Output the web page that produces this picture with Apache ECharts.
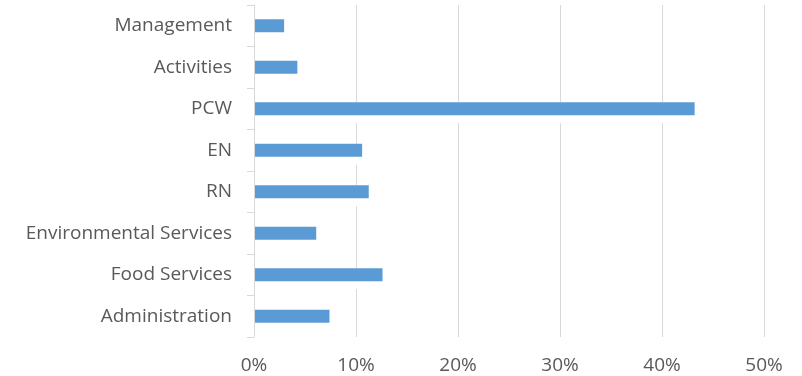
<!DOCTYPE html>
<html>
<head>
<meta charset="utf-8">
<script src="https://cdn.jsdelivr.net/npm/echarts@6/dist/echarts.min.js"></script>
<style>
  html, body { margin: 0; padding: 0; background: #fff; }
  #chart { width: 802px; height: 376px; }
</style>
</head>
<body>
<div id="chart"></div>
<script>
// Staff categories, listed bottom to top as drawn on the vertical axis
const categories = [
  'Administration',
  'Food Services',
  'Environmental Services',
  'RN',
  'EN',
  'PCW',
  'Activities',
  'Management'
];

// Share of staff in each category (percent)
const shares = [7.4, 12.6, 6.1, 11.25, 10.6, 43.2, 4.25, 2.95];

// Horizontal axis ticks (percent)
const tickValues = [0, 10, 20, 30, 40, 50];

const textColor = '#595959';
const lineColor = '#d9d9d9';
const fontFamily = '"Open Sans", "Liberation Sans", sans-serif';

const chart = echarts.init(document.getElementById('chart'), null, { renderer: 'canvas' });

chart.setOption({
  animation: false,
  backgroundColor: '#ffffff',
  grid: { left: 254, right: 38, top: 5, bottom: 39, containLabel: false },
  xAxis: {
    type: 'value',
    min: tickValues[0],
    max: tickValues[tickValues.length - 1],
    interval: tickValues[1] - tickValues[0],
    axisLine: { show: false },
    axisTick: { show: false },
    splitLine: { show: true, lineStyle: { color: lineColor, width: 1 } },
    axisLabel: {
      color: textColor,
      fontFamily: fontFamily,
      fontSize: 19,
      margin: 19,
      formatter: v => v + '%'
    }
  },
  yAxis: {
    type: 'category',
    data: categories,
    z: 5,
    axisLine: { show: true, lineStyle: { color: lineColor, width: 1 } },
    axisTick: { show: true, length: 7, lineStyle: { color: lineColor } },
    splitLine: { show: false },
    axisLabel: {
      color: textColor,
      fontFamily: fontFamily,
      fontSize: 19,
      margin: 22
    }
  },
  series: [
    {
      // white halo behind each bar, keeps gridlines clear of the bar edges
      type: 'bar',
      data: shares,
      barWidth: 21,
      barGap: '-100%',
      silent: true,
      itemStyle: { color: '#ffffff' },
      z: 1
    },
    {
      type: 'bar',
      data: shares,
      barWidth: 13,
      barGap: '-100%',
      itemStyle: { color: '#5b9bd5' },
      z: 2
    }
  ]
});
</script>
</body>
</html>
